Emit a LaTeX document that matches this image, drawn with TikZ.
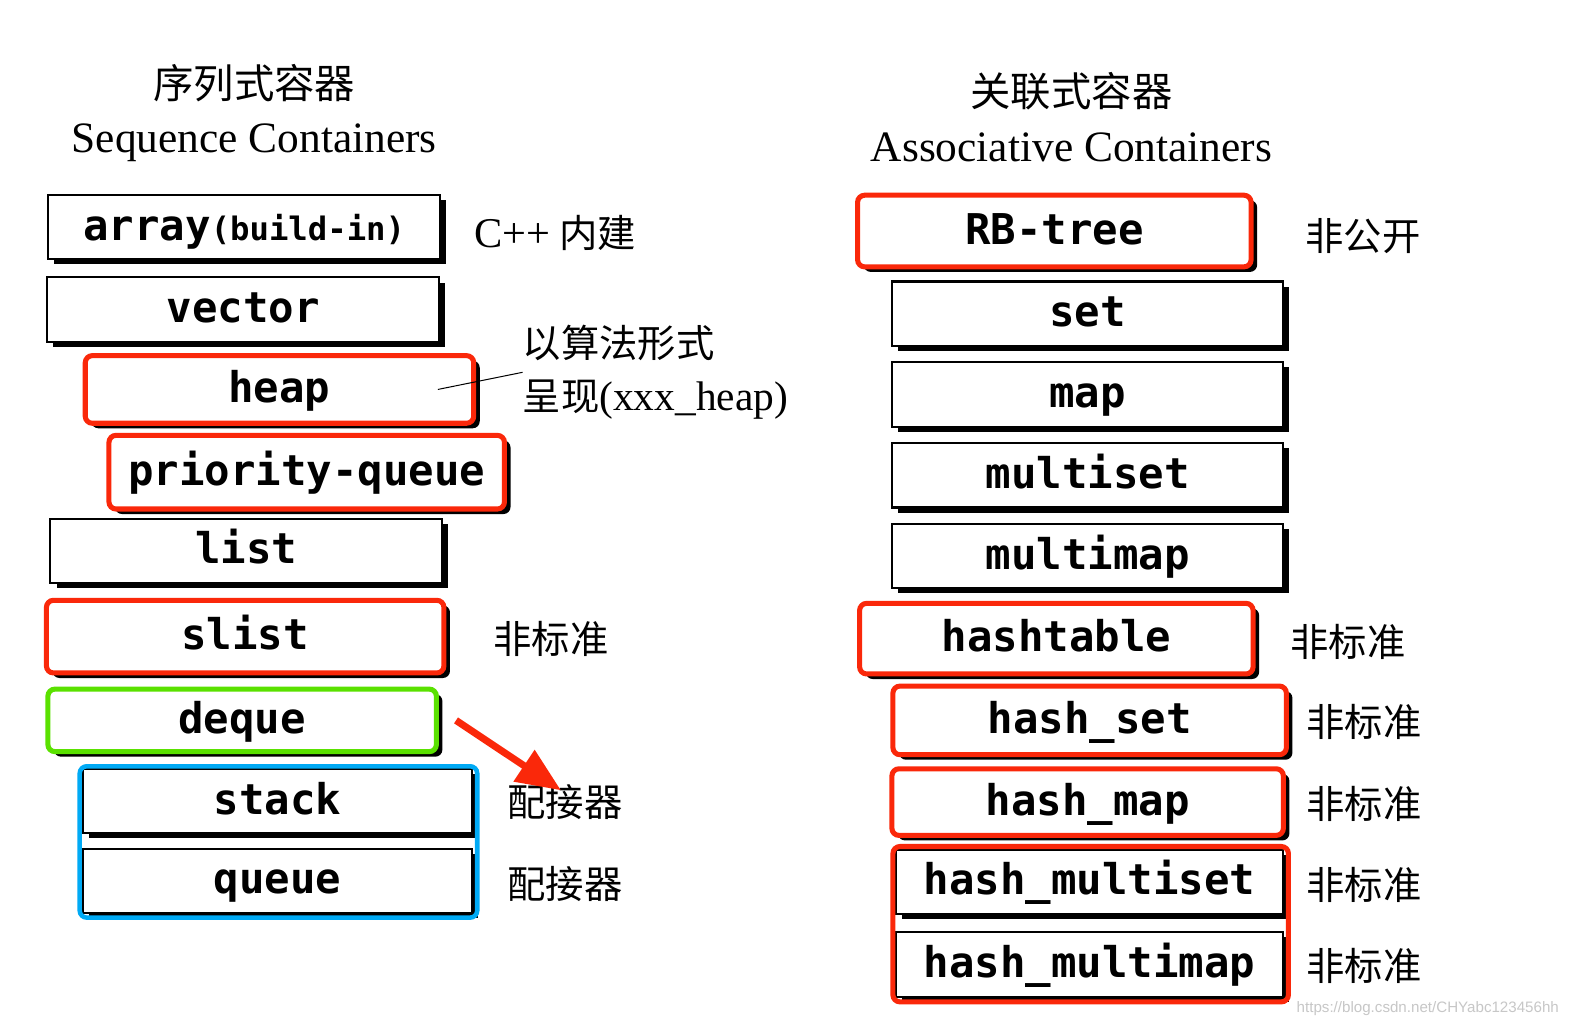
\documentclass[tikz,border=0pt]{standalone}
\usepackage{fontspec}
\setmainfont{Liberation Serif}
\newfontfamily\cjk{Noto Sans CJK SC}
\newfontfamily\monof{DejaVu Sans Mono}
\newfontfamily\wmfont{Liberation Sans}
\usetikzlibrary{shadows,fit,arrows.meta}
\definecolor{hlred}{RGB}{250,40,10}
\definecolor{hlgreen}{RGB}{90,225,0}
\definecolor{hlblue}{RGB}{0,170,245}
\begin{document}
\begin{tikzpicture}[x=1pt,y=-1pt,
  cbox/.style={draw=black, line width=2pt, fill=white, minimum width=388pt, minimum height=64pt,
    inner sep=0pt, text height=32pt, text depth=6pt,
    font=\monof\bfseries\fontsize{42}{42}\selectfont,
    drop shadow={shadow xshift=6pt, shadow yshift=-5pt, fill=black, opacity=1}},
  redbox/.style={cbox, draw=hlred, line width=5pt, rounded corners=7pt},
  greenbox/.style={cbox, draw=hlgreen, line width=5pt, rounded corners=7pt},
  grpblue/.style={draw=hlblue, line width=4.5pt, rounded corners=7pt, inner sep=0pt},
  grpred/.style={draw=hlred, line width=5pt, rounded corners=7pt, inner sep=0pt},
  cnlabel/.style={font=\cjk\fontsize{38}{38}\selectfont, inner sep=0pt},
  header/.style={align=center, inner sep=0pt, font=\fontsize{43}{54}\selectfont},
  redarrow/.style={draw=hlred, line width=7pt, -{Triangle[length=44pt,width=36pt]}, hlred}
]
\useasboundingbox (0,0) rectangle (1568,1019);
\fill[white] (0,0) rectangle (1568,1019);

% headers
\node[header] (hl) at (252,112) {{\cjk\fontsize{40}{40}\selectfont 序列式容器}\\Sequence Containers};
\node[header] (hr) at (1062,116) {{\cjk\fontsize{40}{40}\selectfont 关联式容器}\\Associative Containers};

% left column
\node[cbox] (array) at (242,225) {array{\fontsize{32}{32}\selectfont(build-in)}};
\node[cbox] (vector) at (241,307) {vector};
\node[redbox, minimum width=385pt, minimum height=67pt] (heap) at (277,386) {heap};
\node[redbox, minimum width=392pt, minimum height=73pt] (pq) at (304,468) {priority-queue};
\node[cbox] (list) at (244,546) {list};
\node[redbox, minimum width=394pt, minimum height=72pt] (slist) at (243,631) {slist};
\node[greenbox, minimum width=385pt, minimum height=62pt] (deque) at (240,714) {deque};
\node[cbox, minimum width=386pt, minimum height=63pt] (stack) at (275,794) {stack};
\node[cbox, minimum width=386pt, minimum height=63pt] (queue) at (275,873) {queue};
\node[grpblue, fit={(stack) (queue)}, inner xsep=3pt, inner ysep=3pt, xshift=1pt, yshift=-1pt] (adapt) {};

\node[cnlabel, anchor=west] (cpp) at (470,231) {{\fontsize{42}{42}\selectfont\rmfamily C++} 内建};
\node[cnlabel, anchor=west, align=left, font=\cjk\fontsize{38}{52}\selectfont] (algo) at (518,369)
  {以算法形式\\呈现{\rmfamily\fontsize{41}{41}\selectfont(xxx\_heap)}};
\node[cnlabel] (slistlab) at (546,633) {非标准};
\node[cnlabel] (stacklab) at (560,795) {配接器};
\node[cnlabel] (queuelab) at (560,876) {配接器};

\draw[line width=1pt] ([xshift=-38pt]heap.east) -- (algo.west);
\draw[redarrow] ([xshift=17pt]deque.east) -- ([xshift=-4pt,yshift=-6pt]stacklab.north);

% right column
\node[redbox, minimum width=390pt, minimum height=71pt] (rb) at (1045,229) {RB-tree};
\node[cbox] (set) at (1078,311) {set};
\node[cbox] (map) at (1078,391) {map};
\node[cbox] (mset) at (1078,471) {multiset};
\node[cbox] (mmap) at (1078,551) {multimap};
\node[redbox, minimum width=390pt, minimum height=70pt] (htab) at (1047,633) {hashtable};
\node[redbox, minimum width=390pt, minimum height=68pt] (hset) at (1080,714) {hash\_set};
\node[redbox, minimum width=388pt, minimum height=66pt] (hmap) at (1078,795) {hash\_map};
\node[cbox, minimum width=384pt] (hmset) at (1080,874) {hash\_multiset};
\node[cbox, minimum width=384pt] (hmmap) at (1080,956) {hash\_multimap};
\node[grpred, fit={(hmset) (hmmap)}, inner xsep=3pt, inner ysep=3pt, xshift=1pt, yshift=-1pt] (hgrp) {};

\node[cnlabel] (rblab) at (1351,234) {非公开};
\node[cnlabel] (htablab) at (1336,636) {非标准};
\node[cnlabel] (hsetlab) at (1352,716) {非标准};
\node[cnlabel] (hmaplab) at (1352,797) {非标准};
\node[cnlabel] (hmsetlab) at (1352,877) {非标准};
\node[cnlabel] (hmmaplab) at (1352,957) {非标准};

% watermark
\node[anchor=west, inner sep=0pt, text=black!22, font=\wmfont\fontsize{15}{15}\selectfont] (wm) at (1285,1000) {https://blog.csdn.net/CHYabc123456hh};
\end{tikzpicture}
\end{document}
